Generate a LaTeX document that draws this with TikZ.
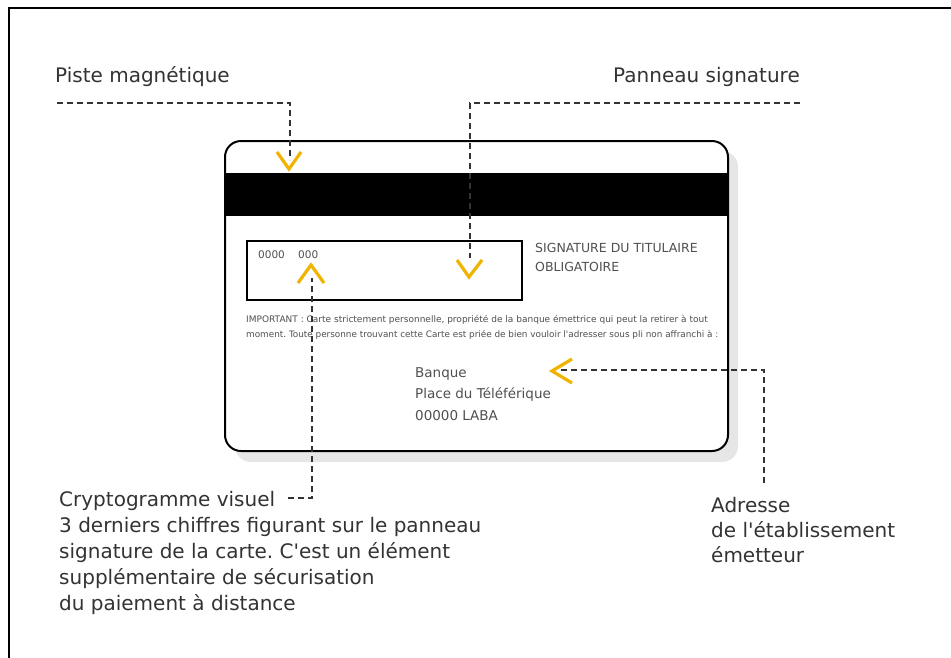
\documentclass[tikz,border=0pt]{standalone}
\usepackage{fontspec}
\setmainfont{DejaVu Sans}
\newfontfamily\plainfont{DejaVu Sans}
\frenchspacing
\definecolor{txt}{HTML}{333333}
\definecolor{small}{HTML}{505050}
\definecolor{chev}{HTML}{F0B400}
\definecolor{shadowgray}{HTML}{E6E6E6}
\tikzset{
  lbl/.style={font=\plainfont\fontsize{20}{26}\selectfont, text=txt, inner sep=0pt, anchor=base west, align=left},
  leader/.style={draw=txt, line width=1.5pt, dash pattern=on 6pt off 4pt},
  chevron/.style={draw=chev, line width=3.2pt, line join=miter, line cap=butt},
  cardtxt/.style={text=small, inner sep=0pt, anchor=west},
  addr/.style={font=\fontsize{13.5}{22}\selectfont, text=small, inner sep=0pt, anchor=base west},
}
\begin{document}
\begin{tikzpicture}[x=1pt,y=-1pt]
\useasboundingbox (0,0) rectangle (951,657);
% frame
\draw[line width=2.2pt] (9,658) -- (9,8) -- (952,8);
% card shadow and card
\fill[shadowgray, rounded corners=16pt] (235,151) rectangle (738,462);
\filldraw[fill=white, draw=black, line width=2pt, rounded corners=16pt] (225,141) rectangle (728,451);
\fill[black] (225,173) rectangle (728,216);
% signature box
\node[draw=black, line width=1.4pt, minimum width=275pt, minimum height=59pt, inner sep=0pt] (sigbox) at (384.5,270.5) {};
\node[cardtxt, font=\fontsize{10.5}{10}\selectfont] (num1) at (258,255) {0000};
\node[cardtxt, font=\fontsize{10.5}{10}\selectfont] (num2) at (298,255) {000};
\node[cardtxt, font=\fontsize{12.5}{19}\selectfont] (sigtxt1) at (535,248) {SIGNATURE DU TITULAIRE};
\node[cardtxt, font=\fontsize{12.5}{19}\selectfont] (sigtxt2) at (535,267) {OBLIGATOIRE};
\node[cardtxt, font=\plainfont\fontsize{9}{9}\selectfont] (imp1) at (246,320) {IMPORTANT : Carte strictement personnelle, propriété de la banque émettrice qui peut la retirer à tout};
\node[cardtxt, font=\plainfont\fontsize{8.85}{9}\selectfont] (imp2) at (246,335) {moment. Toute personne trouvant cette Carte est priée de bien vouloir l'adresser sous pli non affranchi à :};
\node[addr] (bank1) at (415,377) {Banque};
\node[addr] (bank2) at (415,398) {Place du Téléférique};
\node[addr] (bank3) at (415,420) {00000 LABA};
% labels
\node[lbl] (piste) at (55,82) {Piste magnétique};
\node[lbl, anchor=base east] (panneau) at (800,82) {Panneau signature};
\node[lbl] (crypto) at (59,610) {Cryptogramme visuel\\3 derniers chiffres figurant sur le panneau\\signature de la carte. C'est un élément\\supplémentaire de sécurisation\\du paiement à distance};
\node[lbl, font=\plainfont\fontsize{20}{25}\selectfont] (adresse) at (711,562) {Adresse\\de l'établissement\\émetteur};
% coordinates
\coordinate (p0) at (57,103);
\coordinate (p1) at (290,103);
\coordinate (p2) at (290,160);
\coordinate (s0) at (800,103);
\coordinate (s1) at (470,103);
\coordinate (s2) at (470,258);
\coordinate (c0) at (288,498);
\coordinate (c1) at (312,498);
\coordinate (c2) at (312,278);
\coordinate (a0) at (764,483);
\coordinate (a1) at (764,370);
\coordinate (a2) at (558,370);
% leaders
\draw[leader] (p0) -- (p1) -- (p2);
\draw[leader] (s0) -- (s1) -- (s2);
\draw[leader] (c0) -- (c1) -- (c2);
\draw[leader] (a0) -- (a1) -- (a2);
% chevrons
\draw[chevron] (277,152) -- (289,169) -- (301,152);
\draw[chevron] (457,260) -- (469,277) -- (482,260);
\draw[chevron] (298,283) -- (311,265) -- (324,283);
\draw[chevron] (572,359) -- (552,371) -- (572,383);
\end{tikzpicture}
\end{document}
